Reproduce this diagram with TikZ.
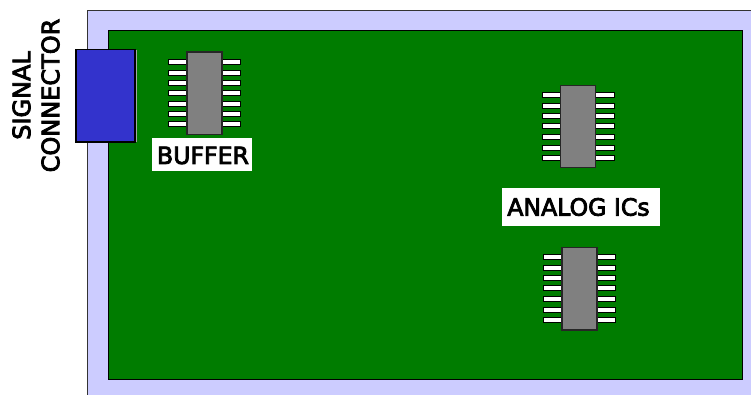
\documentclass[tikz,border=0pt]{standalone}
\usepackage{fontspec}
\setmainfont[FakeBold=3.5]{DejaVu Sans}
\definecolor{boardedge}{RGB}{204,204,255}
\definecolor{boardgreen}{RGB}{0,124,0}
\definecolor{connblue}{RGB}{51,51,204}
\definecolor{chipgrey}{RGB}{128,128,128}
\tikzset{
  icpin/.style={draw=black,fill=white,line width=1.1pt},
  icbody/.style={draw=black!85,fill=chipgrey,line width=1.4pt},
  iclabel/.style={fill=white,text=black,font=\fontsize{23.6}{28}\selectfont,inner sep=0pt}
}
\begin{document}
\begin{tikzpicture}[x=1pt,y=-1pt]
        \useasboundingbox (0,0) rectangle (751,395);
        \clip (0,0) rectangle (751,395);
        \fill[white] (0,0) rectangle (751,395);
        \draw[black!80,fill=boardedge,line width=0.8pt] (87,10) rectangle (770,410);
        \draw[black,fill=boardgreen,line width=1pt] (108,31) rectangle (742.5,379.5);
        \draw[black!35,line width=1pt] (136.5,50)--(136.5,142);
        \draw[black,fill=connblue,line width=1.2pt] (76,49.5) rectangle (135,142);
        % the three ICs, same pin spacing each
        \foreach \icx/\icy in {0/0,373.7/33.3,375/195.3}{
          \begin{scope}[shift={(\icx,\icy)}]
            \foreach \piny in {62,73,83,93,103.7,114.3,124.3}{
              \draw[icpin] (168.5,\piny-2.5) rectangle (187,\piny+2.5);
              \draw[icpin] (222,\piny-2.5) rectangle (240.5,\piny+2.5);
            }
            \draw[icbody] (187,52) rectangle (222,134.5);
          \end{scope}
        }
        \path[fill=white] (152,138.5) rectangle (252,171);
        \node[iclabel] (buffer) at (203,155.5) {BUFFER};
        \path[fill=white] (502,188) rectangle (660,225.5);
        \node[iclabel] (analog) at (578.5,207) {ANALOG ICs};
        \node[rotate=90,align=center,font=\fontsize{24}{29}\selectfont] (signal) at (36,95.5) {SIGNAL\\CONNECTOR};
      \end{tikzpicture}
\end{document}
